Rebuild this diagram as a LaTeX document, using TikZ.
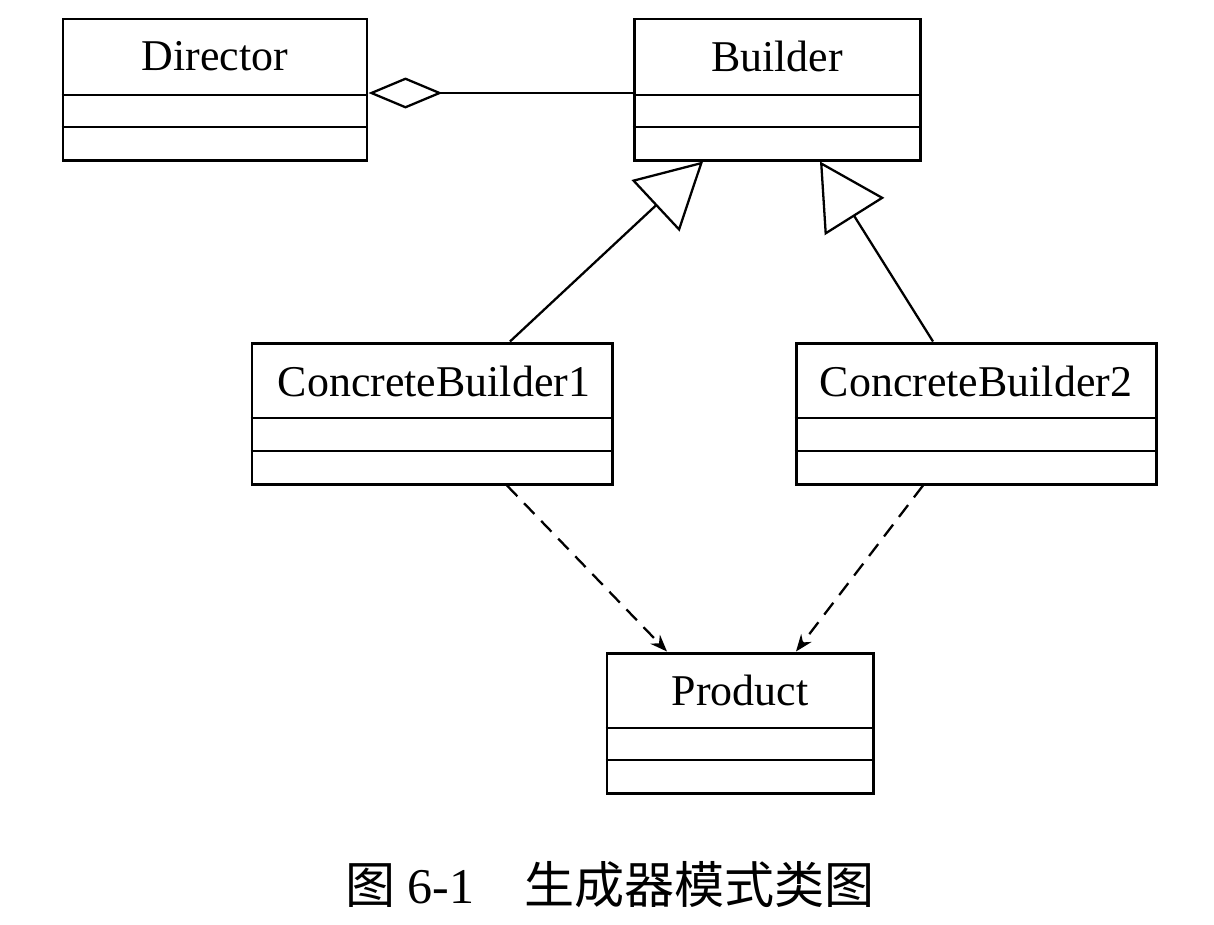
\documentclass[tikz,border=0pt]{standalone}
\usepackage{fontspec}
\setmainfont{Liberation Serif}
\newfontfamily\cjk{Noto Sans CJK SC}
\usetikzlibrary{arrows.meta,fit}
\newcommand{\cdiv}[2]{\draw[divline] (#1.west |- 0,#2) -- (#1.east |- 0,#2);}
\begin{document}
\begin{tikzpicture}[x=0.02cm,y=-0.02cm,
  cls/.style={draw, line width=1.7pt, inner sep=0pt},
  divline/.style={line width=1.5pt},
  cname/.style={font=\fontsize{25}{30}\selectfont, inner sep=0pt},
  agg/.style={line width=1.3pt, {Diamond[open, length=1.48cm, width=0.62cm]}-},
  inh/.style={line width=1.3pt, -{Triangle[open, length=1.3cm, width=1.4cm]}},
  dep/.style={line width=1.3pt, dash pattern=on 8.5pt off 5.5pt, -{Stealth[length=0.34cm, width=0.26cm]}}
]
\useasboundingbox (0,0) rectangle (1214,924);
% classes
\node[cls, fit={(63,19) (367,160)}] (dir) {};
\node[cname] (dirname) at (215,56) {Director};
\cdiv{dir}{95}\cdiv{dir}{127}

\node[cls, fit={(634,19) (920,160)}] (bld) {};
\node[cname] (bldname) at (777,56) {Builder};
\cdiv{bld}{95}\cdiv{bld}{127}

\node[cls, fit={(252,343) (612,484)}] (cb1) {};
\node[cname] (cb1name) at (434,381) {ConcreteBuilder1};
\cdiv{cb1}{418}\cdiv{cb1}{451}

\node[cls, fit={(796,343) (1156,484)}] (cb2) {};
\node[cname] (cb2name) at (976,381) {ConcreteBuilder2};
\cdiv{cb2}{418}\cdiv{cb2}{451}

\node[cls, fit={(607,653) (873,793)}] (prod) {};
\node[cname] (prodname) at (740,690) {Product};
\cdiv{prod}{728}\cdiv{prod}{760}

% connectors
\draw[agg] ([yshift=-0.07cm]dir.east) -- ([yshift=-0.07cm]dir.east -| bld.west);
\draw[inh] ([xshift=1.56cm]cb1.north) -- ([xshift=-1.48cm]bld.south);
\draw[inh] ([xshift=-0.86cm]cb2.north) -- ([xshift=0.86cm]bld.south);
\draw[dep] ([xshift=1.5cm]cb1.south) -- ([xshift=-1.46cm]prod.north);
\draw[dep] ([xshift=-1.06cm]cb2.south) -- ([xshift=1.12cm]prod.north);

% caption
\node[font=\fontsize{28.5}{32}\selectfont, inner sep=0pt] (cap) at (610,885) {{\cjk 图}\ 6-1\hspace{1em}{\cjk 生成器模式类图}};
\end{tikzpicture}
\end{document}
